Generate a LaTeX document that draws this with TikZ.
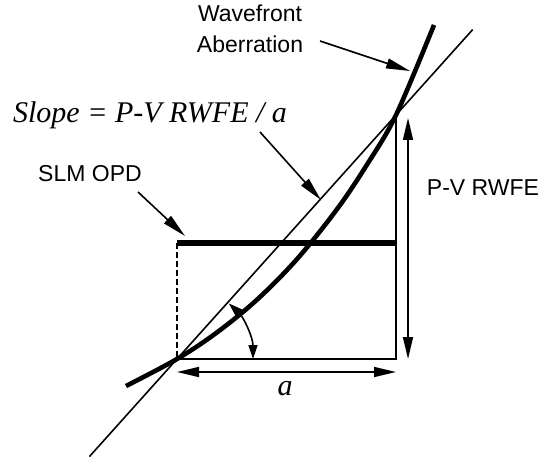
\documentclass[tikz,border=0pt]{standalone}
\usepackage{fontspec}
\setmainfont{Liberation Sans}
\newfontfamily\timesfont{Liberation Serif}
\usepackage{tikz}
\usetikzlibrary{calc}
\usetikzlibrary{arrows.meta,positioning}
\tikzset{
    thinline/.style={
        line width=1.6pt,
        black
    },
    % thick wavefront curve and SLM OPD bar
    thickline/.style={
        line width=4.6pt,
        black
    },
    pointarrow/.style={
        line width=1.6pt,
        black,
        -{Triangle[length=24pt, width=10pt]}
    },
    dimarrow/.style={
        line width=1.6pt,
        black,
        {Triangle[length=22pt, width=10pt]}-{Triangle[length=22pt, width=10pt]}
    },
    anglearrow/.style={
        line width=1.6pt,
        black,
        {Triangle[length=14pt, width=9pt]}-{Triangle[length=14pt, width=9pt]}
    },
    labeltext/.style={font=\fontsize{23}{31}\selectfont, inner sep=0pt},
    slopetext/.style={font=\fontsize{30}{34}\selectfont\timesfont\itshape, inner sep=0pt}
}

\begin{document}
\begin{tikzpicture}[x=1pt,y=-1pt]
\useasboundingbox (0,0) rectangle (545,465);

% ===================== points =====================
\path
    (177,359) coordinate (lowcross)
    (396,115) coordinate (highcross)
    (177,243) coordinate (slmleft)
    (397,243) coordinate (slmright)
    (177,372) coordinate (aleft)
    (396,372) coordinate (aright)
    (408,118) coordinate (pvtop)
    (408,359) coordinate (pvbottom)
    ;

% thin slope line
\draw[thinline] ($(lowcross)!-0.4!(highcross)$) -- ($(highcross)!-0.35!(lowcross)$);

% wavefront aberration
\draw[thickline] plot[smooth, tension=0.55] coordinates
    {(126,386) (lowcross) (217,332.4) (257,299.7) (297,259.1) (337,209.2) (367,164.6) (highcross) (434,25)};

% SLM OPD
\draw[thickline, line width=5.8pt] (slmleft) -- (slmright);
\draw[thinline, dash pattern=on 6pt off 3pt] (slmleft) -- (lowcross);

% box
\draw[thinline] (highcross) |- (lowcross);

% dimensions
\draw[dimarrow] (aleft) -- (aright);
\draw[dimarrow] (pvtop) -- (pvbottom);
\draw[anglearrow] ($(lowcross)+(-47:76)$) arc[start angle=-47, end angle=0, radius=76];

% labels
\node[labeltext, anchor=base] (wavetop) at (250,22) {Wavefront};
\node[labeltext, anchor=base] (wavebottom) at (250,53) {Aberration};
\node[slopetext, anchor=base] (slope) at (150,123) {Slope = P-V RWFE / a};
\node[labeltext, anchor=base] (slm) at (90,181) {SLM OPD};
\node[labeltext, anchor=base] (pv) at (483,195) {P-V RWFE};
\node[slopetext, anchor=base] (alabel) at (285,395) {a};

% pointers
\path
    (320,41) coordinate (wavestart)
    (410,71) coordinate (wavetip)
    (260,132) coordinate (slopestart)
    (321,200) coordinate (slopetip)
    (138,192) coordinate (slmstart)
    (185,236) coordinate (slmtip)
    ;
\draw[pointarrow] (wavestart) -- (wavetip);
\draw[pointarrow] (slopestart) -- (slopetip);
\draw[pointarrow] (slmstart) -- (slmtip);
\end{tikzpicture}
\end{document}
